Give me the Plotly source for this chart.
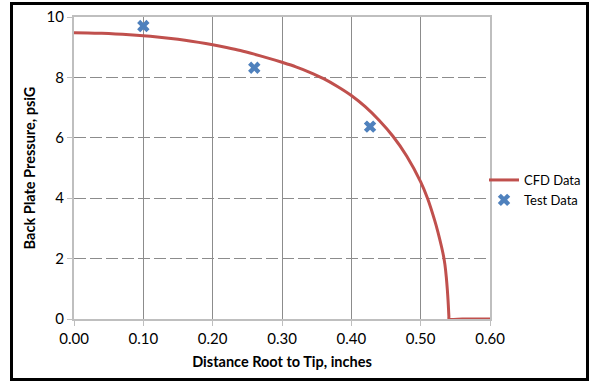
import plotly.graph_objects as go

# CFD curve
cfd_x = [0.00, 0.02, 0.04, 0.06, 0.08, 0.10, 0.12, 0.14, 0.16, 0.18, 0.20, 0.22,
         0.24, 0.26, 0.28, 0.30, 0.32, 0.34, 0.36, 0.38, 0.40, 0.42, 0.44, 0.46,
         0.48, 0.50, 0.51, 0.52, 0.525, 0.53, 0.533, 0.535, 0.537, 0.5385, 0.5395,
         0.5402, 0.5407, 0.541, 0.56, 0.60]
cfd_y = [9.48, 9.47, 9.46, 9.44, 9.41, 9.38, 9.34, 9.29, 9.23, 9.16, 9.08, 8.99,
         8.89, 8.77, 8.64, 8.50, 8.35, 8.17, 7.96, 7.70, 7.40, 7.03, 6.58, 6.05,
         5.39, 4.54, 3.99, 3.28, 2.87, 2.40, 2.08, 1.80, 1.38, 0.96, 0.62,
         0.32, 0.08, 0.00, 0.00, 0.00]

# Test data
test_x = [0.10, 0.26, 0.427]
test_y = [9.70, 8.32, 6.37]

x_ticks = [0.0, 0.1, 0.2, 0.3, 0.4, 0.5, 0.6]
x_tick_labels = ["0.00", "0.10", "0.20", "0.30", "0.40", "0.50", "0.60"]
y_ticks = [0, 2, 4, 6, 8, 10]

FONT = "Lato"

fig = go.Figure()
fig.add_trace(go.Scatter(
    x=cfd_x, y=cfd_y, mode="lines", name="CFD Data",
    line=dict(color="#C0504D", width=3, shape="spline", smoothing=0.8),
))
fig.add_trace(go.Scatter(
    x=test_x, y=test_y, mode="markers", name="Test Data",
    marker=dict(symbol="x", color="#4F81BD", size=11,
                line=dict(width=0)),
))

W, H = 590, 381
L, R, T, B = 74, 100, 17, 62
pw, ph = W - L - R, H - T - B

def px_to_paper_x(px):
    return (px - L) / pw

def px_to_paper_y(py):
    return (H - B - py) / ph

fig.update_layout(
    width=W, height=H,
    margin=dict(l=L, r=R, t=T, b=B, autoexpand=False),
    paper_bgcolor="white", plot_bgcolor="white",
    font=dict(family=FONT, size=15, color="black"),
    showlegend=True,
    legend=dict(x=px_to_paper_x(484), y=px_to_paper_y(165), xanchor="left", yanchor="top",
                font=dict(family=FONT, size=13, color="black"),
                bgcolor="rgba(0,0,0,0)", itemwidth=30, tracegroupgap=4),
    xaxis=dict(
        range=[0, 0.6], tickvals=x_ticks, ticktext=x_tick_labels,
        showgrid=True, gridcolor="#8C8C8C", gridwidth=1,
        showline=True, linecolor="#BFBFBF", linewidth=2, mirror=True,
        ticks="outside", ticklen=5, tickcolor="#BFBFBF", tickwidth=1,
        zeroline=False,
        title=dict(text="<b>Distance Root to Tip, inches</b>", font=dict(size=14.5), standoff=11),
    ),
    yaxis=dict(
        range=[0, 10], tickvals=y_ticks,
        showgrid=True, gridcolor="#8C8C8C", gridwidth=1, griddash="12px,4px",
        showline=True, linecolor="#BFBFBF", linewidth=2, mirror=True,
        ticks="outside", ticklen=5, tickcolor="#BFBFBF", tickwidth=1,
        zeroline=False,
        title=dict(text="<b>Back Plate Pressure, psiG</b>", font=dict(size=14.5), standoff=8),
    ),
    shapes=[dict(
        type="rect", xref="paper", yref="paper",
        x0=px_to_paper_x(11.5), x1=px_to_paper_x(587.5),
        y0=px_to_paper_y(379.5), y1=px_to_paper_y(3.5),
        line=dict(color="black", width=3), fillcolor="rgba(0,0,0,0)", layer="above",
    )],
)

fig.write_html("out.html")
